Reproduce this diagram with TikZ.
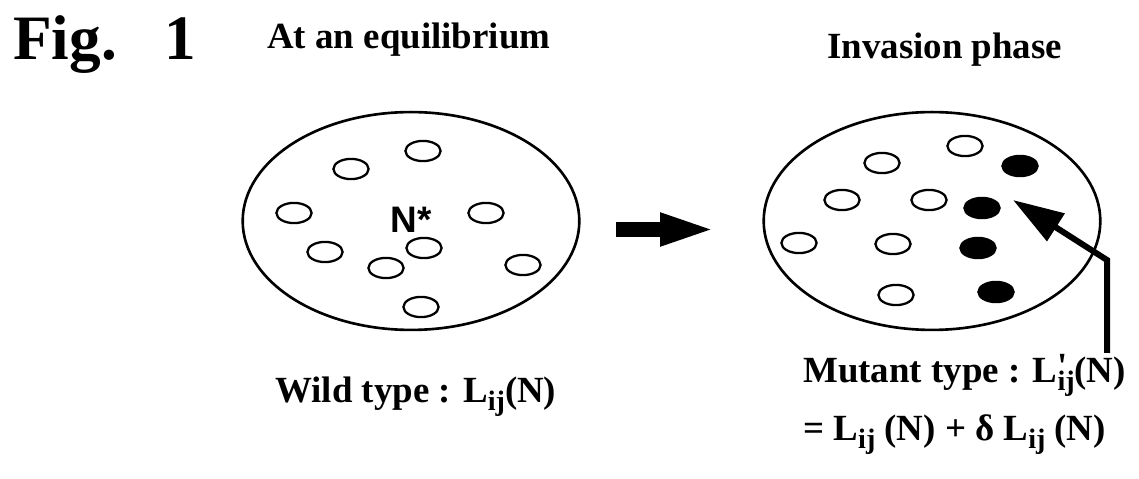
\documentclass[tikz,border=0pt]{standalone}
\usepackage{fontspec}
\setmainfont{Liberation Serif}
\newfontfamily\nstarfont{Liberation Sans}
\usepackage{tikz}
\usetikzlibrary{positioning}
\usetikzlibrary{shapes.geometric,arrows.meta}
\usetikzlibrary{calc}
\newcommand{\sbs}[1]{\raisebox{-5pt}{\fontsize{16}{16}\selectfont #1}}
\tikzset{
  pop/.style={draw, ellipse, line width=1.5pt, inner sep=0,
    minimum width=191.6pt, minimum height=124pt},
  cell/.style={draw, ellipse, line width=1.3pt, inner sep=0,
    minimum width=20pt, minimum height=11.5pt},
  mcell/.style={cell, fill=black},
  txt/.style={anchor=base west, inner sep=0,
    font=\bfseries\fontsize{21}{25}\selectfont},
  bigarrow/.style={line width=8.5pt, -{Triangle[length=33pt,width=16.5pt]}},
  pointer/.style={line width=3.4pt, line join=miter,
    -{Triangle[length=29pt,width=18pt]}}
}

\begin{document}
\begin{tikzpicture}[x=0.02cm, y=-0.02cm]
  \useasboundingbox (0,0) rectangle (1139,479);
  % titles
  \node[anchor=base west, inner sep=0, font=\bfseries\fontsize{36}{40}\selectfont]
    (fig) at (13,60) {Fig.\hspace{27pt}1};
  \node[txt] (eqtitle) at (267,49) {At an equilibrium};
  \node[txt] (invtitle) at (827,59) {Invasion phase};
  % populations
  \node[pop] (wildpop) at (411,221) {};
  \node[pop] (mutpop) at (932,221) {};
  \node[font=\nstarfont\bfseries\fontsize{21}{24}\selectfont, inner sep=0]
    (nstar) at (411,220) {N*};
  % wild type cells
  \foreach \x/\y [count=\k] in {423/151,351/169,294/213,486/213,325/252,
                                424/248,386/268,523/265,421/307}
    \node[cell] (w\k) at (\x,\y) {};
  % invasion phase: wild cells, then mutant cells
  \foreach \x/\y [count=\k] in {965/146,882/163,842/200,929/200,799/243,
                                893/244,896/295}
    \node[cell] (iw\k) at (\x,\y) {};
  \foreach \x/\y [count=\k] in {1020/166,982/208,978/248,996/292}
    \node[mcell] (m\k) at (\x,\y) {};
  % arrows
  \coordinate (arrstart) at (616,229.5);
  \coordinate (arrend) at (718,229.5);
  \draw[bigarrow] (arrstart) -- (arrend);
  \coordinate (ptrfoot) at (1107,353);
  \coordinate (ptrbend) at (1107,260);
  \coordinate (ptrtip) at (1013,200);
  \draw[pointer] (ptrfoot) -- (ptrbend) -- (ptrtip);
  % type labels
  \node[txt] (wildtxt) at (275,402) {Wild type : L\sbs{ij}(N)};
  \node[txt] (muttxt) at (803,382)
    {Mutant type : L\rlap{\raisebox{2pt}{\textquotesingle}}\sbs{ij}(N)};
  \node[txt] (eqtxt) at (803,440) {= L\sbs{ij} (N) + δ L\sbs{ij} (N)};
\end{tikzpicture}
\end{document}
